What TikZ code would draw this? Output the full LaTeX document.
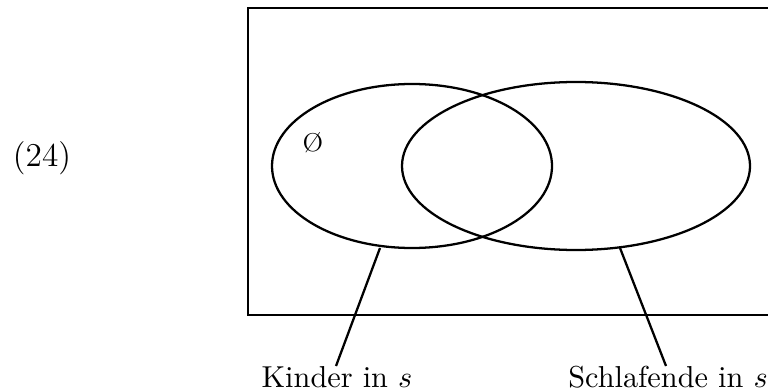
\documentclass[tikz,border=0pt]{standalone}
\begin{document}
\begin{tikzpicture}[x=0.33pt,y=0.33pt,
  frame/.style={line width=0.85pt},
  setline/.style={line width=0.75pt},
  lbl/.style={font=\fontsize{10}{12}\selectfont, inner sep=0pt}]
\useasboundingbox (0,0) rectangle (768,390);
\clip (0,0) rectangle (768,390);
% frame (cut off at the right edge)
\draw[frame] (248,382) rectangle (810,75);
% sets
\draw[setline] (412,224) ellipse [x radius=140, y radius=82];
\draw[setline] (576,224) ellipse [x radius=174, y radius=84];
% named points on the ellipses
\coordinate (c1) at (380,142);
\coordinate (c2) at (620,142);
% labels
\node[lbl, font=\fontsize{11}{13}\selectfont] (num) at (42,232) {(24)};
\node[lbl, font=\fontsize{8.5}{10}\selectfont] (empty) at (313,247) {\O};
\node[lbl, anchor=north] (k) at (337,24) {Kinder in $s$};
\node[lbl, anchor=north] (sl) at (668,24) {Schlafende in $s$};
% connectors
\draw[setline] (c1) -- (k.north -| 336,0);
\draw[setline] (c2) -- (sl.north -| 666,0);
\end{tikzpicture}
\end{document}
